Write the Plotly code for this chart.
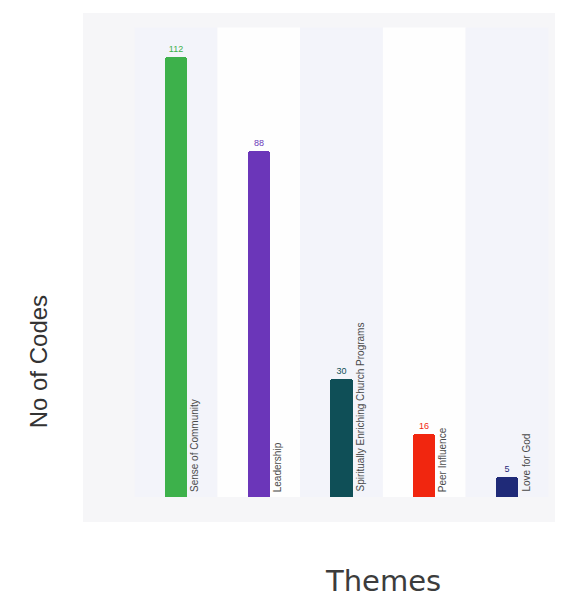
import plotly.graph_objects as go

# Theme counts
themes = ["Sense of Community", "Leadership", "Spiritually Enriching Church Programs",
          "Peer Influence", "Love for God"]
codes = [112, 88, 30, 16, 5]
colors = ["#3db14b", "#6b36b9", "#0f4f57", "#f1260f", "#1f2a78"]
band_colors = ["#f3f4fa", "#fefefe", "#f3f4fa", "#fefefe", "#f3f4fa"]

x_idx = list(range(len(themes)))

fig = go.Figure()
fig.add_trace(go.Bar(
    x=x_idx, y=codes, width=0.27,
    marker=dict(color=colors, cornerradius=3, line=dict(width=0)),
    text=[str(v) for v in codes], textposition="outside",
    textfont=dict(size=9, color=colors, family="Liberation Sans"),
    cliponaxis=False, hoverinfo="skip",
))

# alternating column bands behind the bars
shapes = []
for i, c in zip(x_idx, band_colors):
    shapes.append(dict(type="rect", xref="x", yref="y", x0=i - 0.5, x1=i + 0.5,
                       y0=0, y1=119.5, fillcolor=c, line=dict(width=0), layer="below"))

annotations = []
for i, name in zip(x_idx, themes):
    annotations.append(dict(x=i, y=0, xref="x", yref="y", text=name, textangle=-90,
                            showarrow=False, xanchor="left", yanchor="bottom",
                            xshift=11, yshift=3,
                            font=dict(size=10, color="#4a4a4a", family="Liberation Sans")))

annotations.append(dict(x=-0.095, y=0.314, xref="paper", yref="paper", text="No of Codes",
                        textangle=-90, showarrow=False, xanchor="center", yanchor="middle",
                        font=dict(size=24, color="#333333", family="Liberation Sans")))
annotations.append(dict(x=0.635, y=-0.115, xref="paper", yref="paper", text="Themes",
                        showarrow=False, xanchor="center", yanchor="middle",
                        font=dict(size=29, color="#3c3c3c", family="DejaVu Sans")))

fig.update_layout(
    width=578, height=600,
    margin=dict(l=83, r=23, t=13, b=78),
    paper_bgcolor="#ffffff", plot_bgcolor="#f6f6f8",
    showlegend=False,
    shapes=shapes, annotations=annotations,
    bargap=0,
    xaxis=dict(range=[-1.124, 4.58], showgrid=False, zeroline=False,
               showticklabels=False, ticks=""),
    yaxis=dict(range=[-6.36, 123.2], showgrid=False, zeroline=False,
               showticklabels=False, ticks=""),
)

fig.write_html("out.html")
